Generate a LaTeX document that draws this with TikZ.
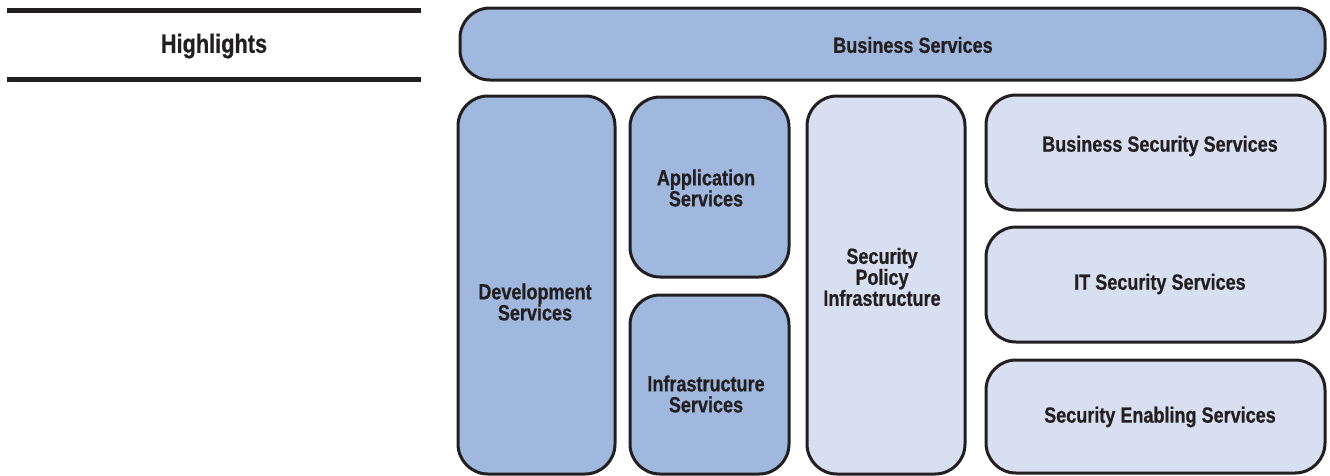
\documentclass[tikz,border=0pt]{standalone}
\usepackage{fontspec}
\setmainfont{Liberation Sans}[FakeStretch=0.82,BoldFeatures={FakeBold=0.6}]
\definecolor{darkfill}{HTML}{A0B8DE}
\definecolor{lightfill}{HTML}{D8DFF0}
\definecolor{edge}{HTML}{231F20}
\begin{document}
\begin{tikzpicture}[x=1pt,y=-1pt,
  box/.style={draw=edge,line width=3pt,rounded corners=30pt,inner sep=0pt},
  lbl/.style={font=\fontsize{22}{21}\selectfont\bfseries,text=edge,align=center,inner sep=0pt}]
\useasboundingbox (0,0) rectangle (1330,475);
% header lines
\draw[line width=5pt,color=edge] (7,10) -- (421,10);
\draw[line width=5pt,color=edge] (7,79.5) -- (421,79.5);
\node[lbl,font=\fontsize{26.5}{26}\selectfont\bfseries] (hl) at (214,46) {Highlights};
% boxes
\draw[box,fill=darkfill] (460,8) rectangle (1325,80);
\node[lbl] (bs) at (913,45) {Business Services};
\draw[box,fill=darkfill] (458,96) rectangle (615,474);
\node[lbl] (dev) at (535,302) {Development\\Services};
\draw[box,fill=darkfill] (630,97) rectangle (789,277);
\node[lbl] (app) at (706,188) {Application\\Services};
\draw[box,fill=darkfill] (630,295) rectangle (789,474);
\node[lbl] (inf) at (706,394) {Infrastructure\\Services};
\draw[box,fill=lightfill] (807,96) rectangle (965,474);
\node[lbl] (spi) at (882,277) {Security\\Policy\\Infrastructure};
\draw[box,fill=lightfill] (986,95) rectangle (1325,210);
\node[lbl] (bss) at (1160,146) {Business Security Services};
\draw[box,fill=lightfill] (986,227) rectangle (1325,342);
\node[lbl] (its) at (1160,284) {IT Security Services};
\draw[box,fill=lightfill] (986,360) rectangle (1325,473);
\node[lbl] (ses) at (1160,417) {Security Enabling Services};
\end{tikzpicture}
\end{document}
